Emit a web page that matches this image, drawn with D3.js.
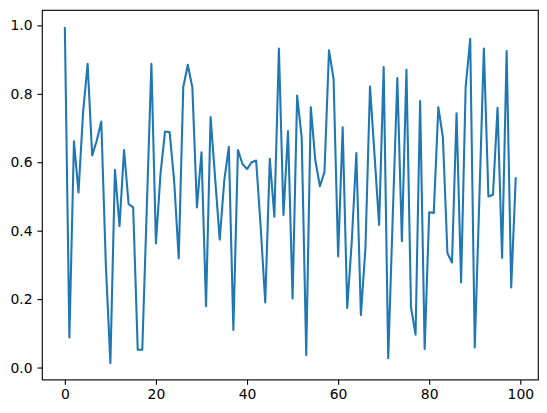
<!DOCTYPE html>
<html><head><meta charset="utf-8">
<script src="https://cdn.jsdelivr.net/npm/d3@7"></script>
<style>body{margin:0;background:#fff}svg{display:block}</style>
</head><body>
<script>
const xIndex = d3.range(100);
const values = [
0.995,0.088,0.661,0.512,0.745,0.888,0.620,0.663,0.719,0.300,
0.013,0.578,0.413,0.636,0.478,0.468,0.052,0.052,0.470,0.888,
0.363,0.566,0.690,0.688,0.546,0.319,0.820,0.885,0.818,0.468,
0.629,0.179,0.732,0.553,0.374,0.546,0.645,0.110,0.636,0.595,
0.580,0.600,0.605,0.410,0.190,0.610,0.441,0.932,0.446,0.691,
0.202,0.795,0.673,0.037,0.761,0.605,0.530,0.571,0.927,0.844,
0.325,0.702,0.174,0.370,0.627,0.154,0.350,0.821,0.620,0.417,
0.878,0.027,0.445,0.846,0.369,0.870,0.176,0.096,0.779,0.054,
0.454,0.452,0.761,0.673,0.334,0.307,0.743,0.249,0.820,0.961,
0.059,0.490,0.932,0.500,0.505,0.759,0.320,0.925,0.234,0.556
];
const xTicks = [0,20,40,60,80,100];
const yTicks = [0,0.2,0.4,0.6,0.8,1.0];

const W = 547, H = 413;
const m = {left:42.3, top:10.3, width:496, height:369.6};
const svg = d3.select("body").append("svg").attr("width",W).attr("height",H);
const g = svg.append("g").attr("transform",`translate(${m.left},${m.top})`);

const xmin = d3.min(xIndex), xmax = d3.max(xIndex);
const ymin = d3.min(values), ymax = d3.max(values);
const xp = (xmax-xmin)*0.05, yp = (ymax-ymin)*0.05;
const x = d3.scaleLinear().domain([xmin-xp, xmax+xp]).range([0,m.width]);
const y = d3.scaleLinear().domain([ymin-yp, ymax+yp]).range([m.height,0]);

const line = d3.line().x((d,i)=>x(xIndex[i])).y(d=>y(d));
g.append("path").datum(values).attr("d",line)
 .attr("fill","none").attr("stroke","#1f77b4").attr("stroke-width",2.08)
 .attr("stroke-linejoin","round").attr("stroke-linecap","butt");

const fontSize = "13.9px";
const xa = g.append("g").attr("transform",`translate(0,${m.height})`)
 .call(d3.axisBottom(x).tickValues(xTicks).tickFormat(d3.format("d")).tickSize(4.86).tickPadding(4.86));
const ya = g.append("g")
 .call(d3.axisLeft(y).tickValues(yTicks).tickFormat(d3.format(".1f")).tickSize(4.86).tickPadding(4.86));
[xa,ya].forEach(a=>{
  a.select(".domain").remove();
  a.selectAll("line").attr("stroke","#000").attr("stroke-width",1.11);
  a.selectAll("text").attr("fill","#000").style("font-family","DejaVu Sans").style("font-size",fontSize);
});
g.append("rect").attr("x",0).attr("y",0).attr("width",m.width).attr("height",m.height)
 .attr("fill","none").attr("stroke","#000").attr("stroke-width",1.11);
</script>
</body></html>
